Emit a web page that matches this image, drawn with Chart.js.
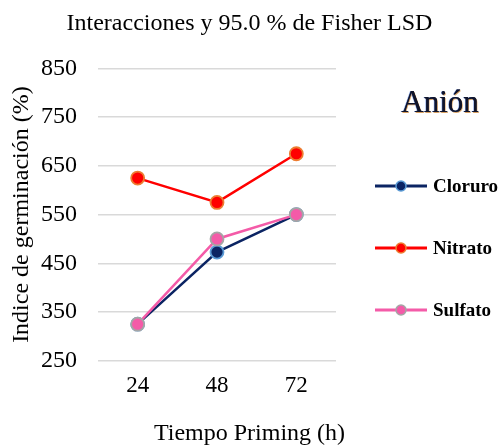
<!DOCTYPE html>
<html>
<head>
<meta charset="utf-8">
<script src="https://cdn.jsdelivr.net/npm/chart.js@4.4.1/dist/chart.umd.min.js"></script>
<style>
  html, body { margin: 0; padding: 0; background: #ffffff; }
  #wrap { width: 499px; height: 446px; position: relative; }
</style>
</head>
<body>
<div id="wrap"><canvas id="chart" width="499" height="446"></canvas></div>
<script>
// Priming time (h) and mean germination index (%) per anion
const categories = ['24', '48', '72'];
const cloruro = [325, 473, 550];
const nitrato = [625, 575, 675];
const sulfato = [325, 500, 550];
const yTicks = [250, 350, 450, 550, 650, 750, 850];

const seriesNames = ['Cloruro', 'Nitrato', 'Sulfato'];
const legendTitle = 'Anión';

const SERIF = '"Liberation Serif", "Times New Roman", serif';

// Legend drawn in the reserved right-hand column: title plus one line+marker entry per series
const sideLegend = {
  id: 'sideLegend',
  afterDraw(chart) {
    const ctx = chart.ctx;
    ctx.save();
    ctx.font = '31px ' + SERIF;
    ctx.fillStyle = '#10142a';
    ctx.textAlign = 'center';
    ctx.textBaseline = 'alphabetic';
    ctx.shadowColor = 'rgba(200,120,30,0.7)';
    ctx.shadowOffsetX = 0.8;
    ctx.shadowOffsetY = 0.6;
    ctx.shadowBlur = 0.6;
    ctx.fillText(legendTitle, 440, 112);
    ctx.shadowColor = 'rgba(40,90,200,0.5)';
    ctx.shadowOffsetX = -0.7;
    ctx.shadowOffsetY = -0.3;
    ctx.fillText(legendTitle, 440, 112);
    ctx.restore();

    const rows = [186, 248, 310];
    seriesNames.forEach((name, i) => {
      const ds = chart.data.datasets.find(d => d.label === name);
      const y = rows[i];
      ctx.save();
      ctx.strokeStyle = ds.borderColor;
      ctx.lineWidth = 3;
      ctx.beginPath();
      ctx.moveTo(375, y);
      ctx.lineTo(427, y);
      ctx.stroke();
      ctx.beginPath();
      ctx.arc(401, y, 5, 0, Math.PI * 2);
      ctx.fillStyle = ds.pointBackgroundColor;
      ctx.fill();
      ctx.lineWidth = 1.5;
      ctx.strokeStyle = ds.pointBorderColor;
      ctx.stroke();
      ctx.font = 'bold 19px ' + SERIF;
      ctx.fillStyle = '#000000';
      ctx.textAlign = 'left';
      ctx.textBaseline = 'middle';
      ctx.fillText(ds.label, 433, y + 1);
      ctx.restore();
    });
  }
};

function series(label, data, line, fill, ring, order) {
  return {
    label, data, order,
    borderColor: line,
    backgroundColor: line,
    borderWidth: 2.5,
    pointRadius: 6.5,
    pointHoverRadius: 6.5,
    pointBorderWidth: 1.8,
    pointBackgroundColor: fill,
    pointBorderColor: ring,
    tension: 0
  };
}

new Chart(document.getElementById('chart'), {
  type: 'line',
  data: {
    labels: categories,
    datasets: [
      series('Cloruro', cloruro, '#0b2463', '#0b2463', '#5b9bd5', 1),
      series('Nitrato', nitrato, '#ff0000', '#ff0000', '#ed7d31', 2),
      series('Sulfato', sulfato, '#f45ba8', '#f45ba8', '#a5a5a5', 0)
    ]
  },
  options: {
    responsive: false,
    animation: false,
    events: [],
    layout: { padding: 0 },
    plugins: {
      legend: { display: false },
      tooltip: { enabled: false },
      title: {
        display: true,
        text: 'Interacciones y 95.0 % de Fisher LSD',
        color: '#000000',
        font: { family: SERIF, size: 24, weight: 'normal', lineHeight: 1.2 },
        padding: { top: 9.6, bottom: 30.1 }
      },
      subtitle: {
        display: true,
        position: 'bottom',
        text: 'Tiempo Priming (h)',
        color: '#000000',
        font: { family: SERIF, size: 24, weight: 'normal', lineHeight: 1.0 },
        padding: { top: 10, bottom: 0 }
      }
    },
    scales: {
      x: {
        type: 'category',
        offset: true,
        grid: { display: false, drawTicks: false },
        border: { display: false },
        afterFit(scale) { scale.height = 51.3; },
        ticks: {
          color: '#000000',
          padding: 11,
          font: { family: SERIF, size: 23 }
        }
      },
      y: {
        min: 250,
        max: 850,
        afterBuildTicks(scale) {
          scale.ticks = yTicks.map(v => ({ value: v }));
        },
        afterFit(scale) { scale.width = 98; },
        grid: { color: '#d9d9d9', lineWidth: 1.6, drawTicks: false },
        border: { display: false },
        ticks: {
          color: '#000000',
          padding: 21,
          font: { family: SERIF, size: 24 }
        },
        title: {
          display: true,
          text: 'Indice de germinación (%)',
          color: '#000000',
          font: { family: SERIF, size: 24, lineHeight: 1.2 },
          padding: { top: 7.6, bottom: 6 }
        }
      },
      // empty column on the right that holds the legend
      legendColumn: {
        type: 'linear',
        position: 'right',
        display: true,
        grid: { display: false, drawTicks: false },
        border: { display: false },
        ticks: { display: false },
        afterFit(scale) { scale.width = 163; }
      }
    }
  },
  plugins: [sideLegend]
});
</script>
</body>
</html>
